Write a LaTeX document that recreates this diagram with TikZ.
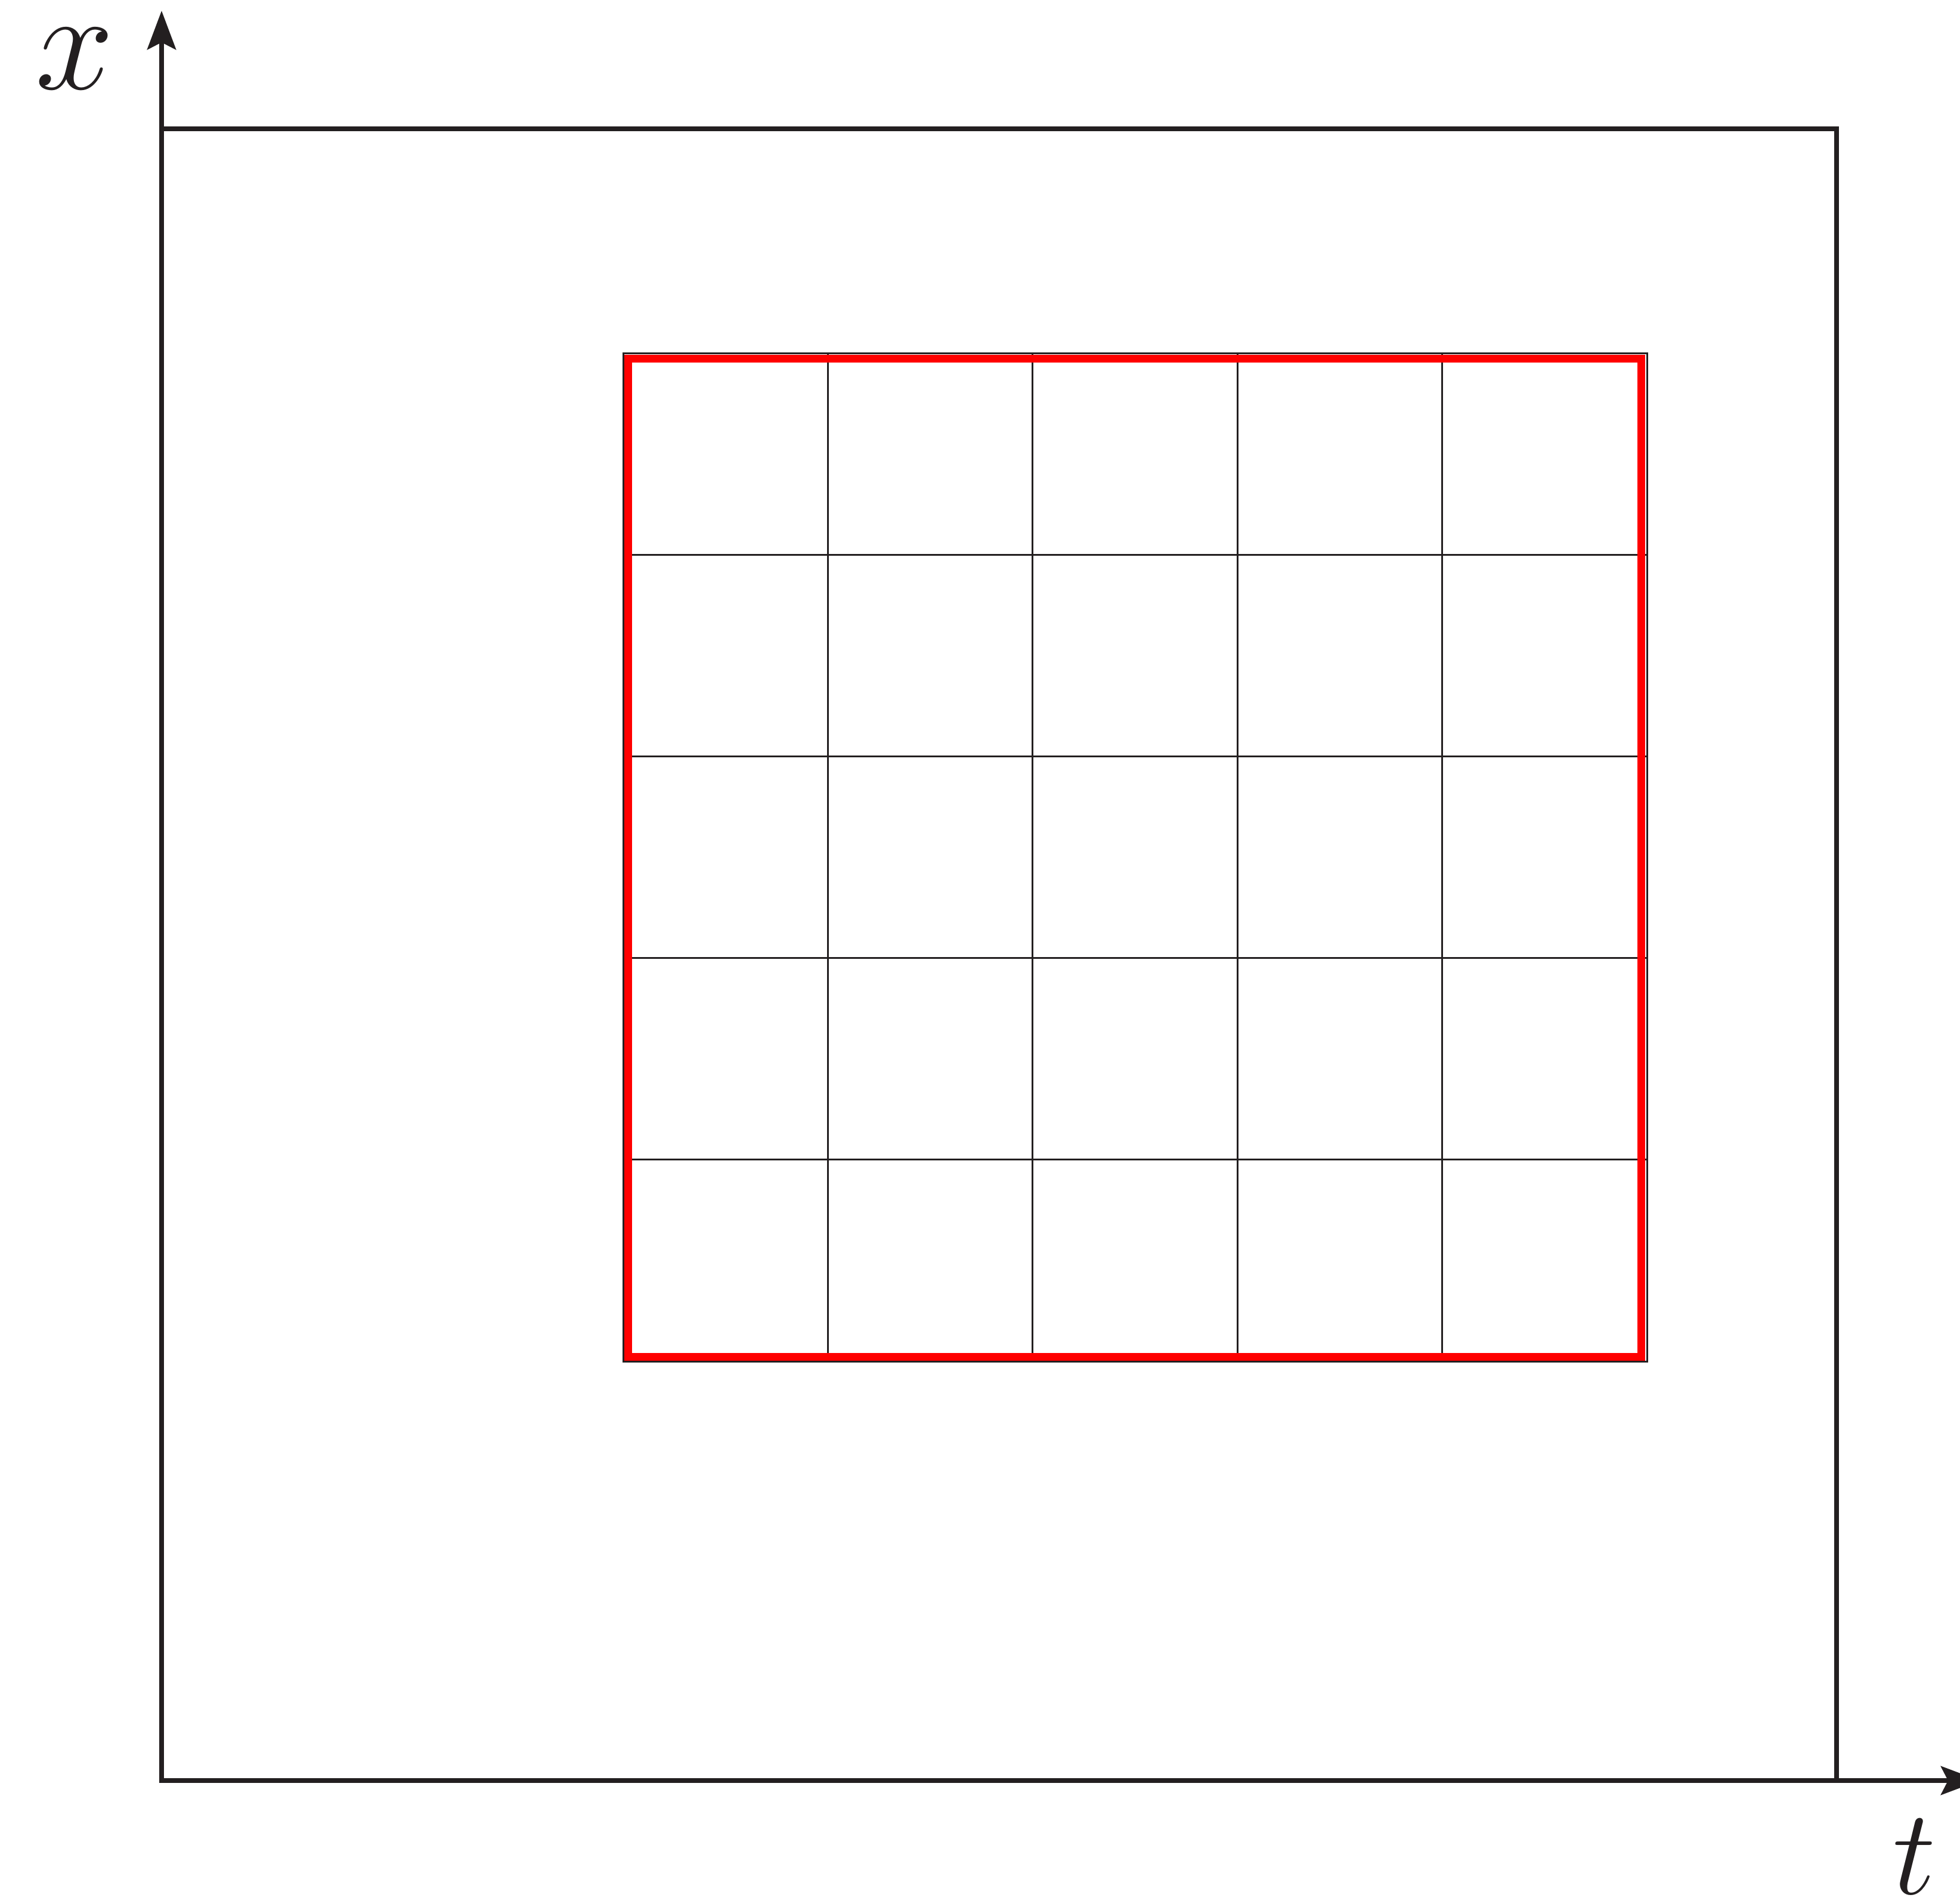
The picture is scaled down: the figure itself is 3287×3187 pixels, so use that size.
\documentclass[tikz,border=0pt]{standalone}
\usetikzlibrary{arrows.meta}
\definecolor{ink}{RGB}{35,31,32}
\begin{document}
\begin{tikzpicture}[x=0.01cm,y=-0.01cm,
  frame/.style={line width=2.27pt, draw=ink},
  axis/.style={line width=2.27pt, draw=ink, -{Stealth[length=0.65cm,width=0.48cm,inset=0.12cm]}},
  gridline/.style={line width=0.85pt, draw=ink},
  redbox/.style={line width=3.69pt, draw=red},
  lab/.style={inner sep=0pt, text=ink, font=\Huge}]
\useasboundingbox (0,0) rectangle (3287,3187);
% outer box
\draw[frame] (271,216) rectangle (3080,2986);
% axes
\coordinate (o1) at (271,216);
\coordinate (xtip) at (271,18);
\coordinate (o2) at (3080,2986);
\coordinate (ttip) at (3320,2986);
\draw[axis] (o1) -- (xtip);
\draw[axis] (o2) -- (ttip);
\node[lab, scale=2.7] (xl) at (125,99) {$x$};
\node[lab, scale=2.33] (tl) at (3211,3114) {$t$};
% grid
\draw[gridline] (1045,592) rectangle (2762,2283);
\foreach \i in {1,...,4} {
  \draw[gridline] ({1045+\i*343.4},592) -- ({1045+\i*343.4},2283);
  \draw[gridline] (1045,{592+\i*338.2}) -- (2762,{592+\i*338.2});
}
% red boundary
\draw[redbox] (1053,601.5) rectangle (2752.5,2275);
\end{tikzpicture}
\end{document}
